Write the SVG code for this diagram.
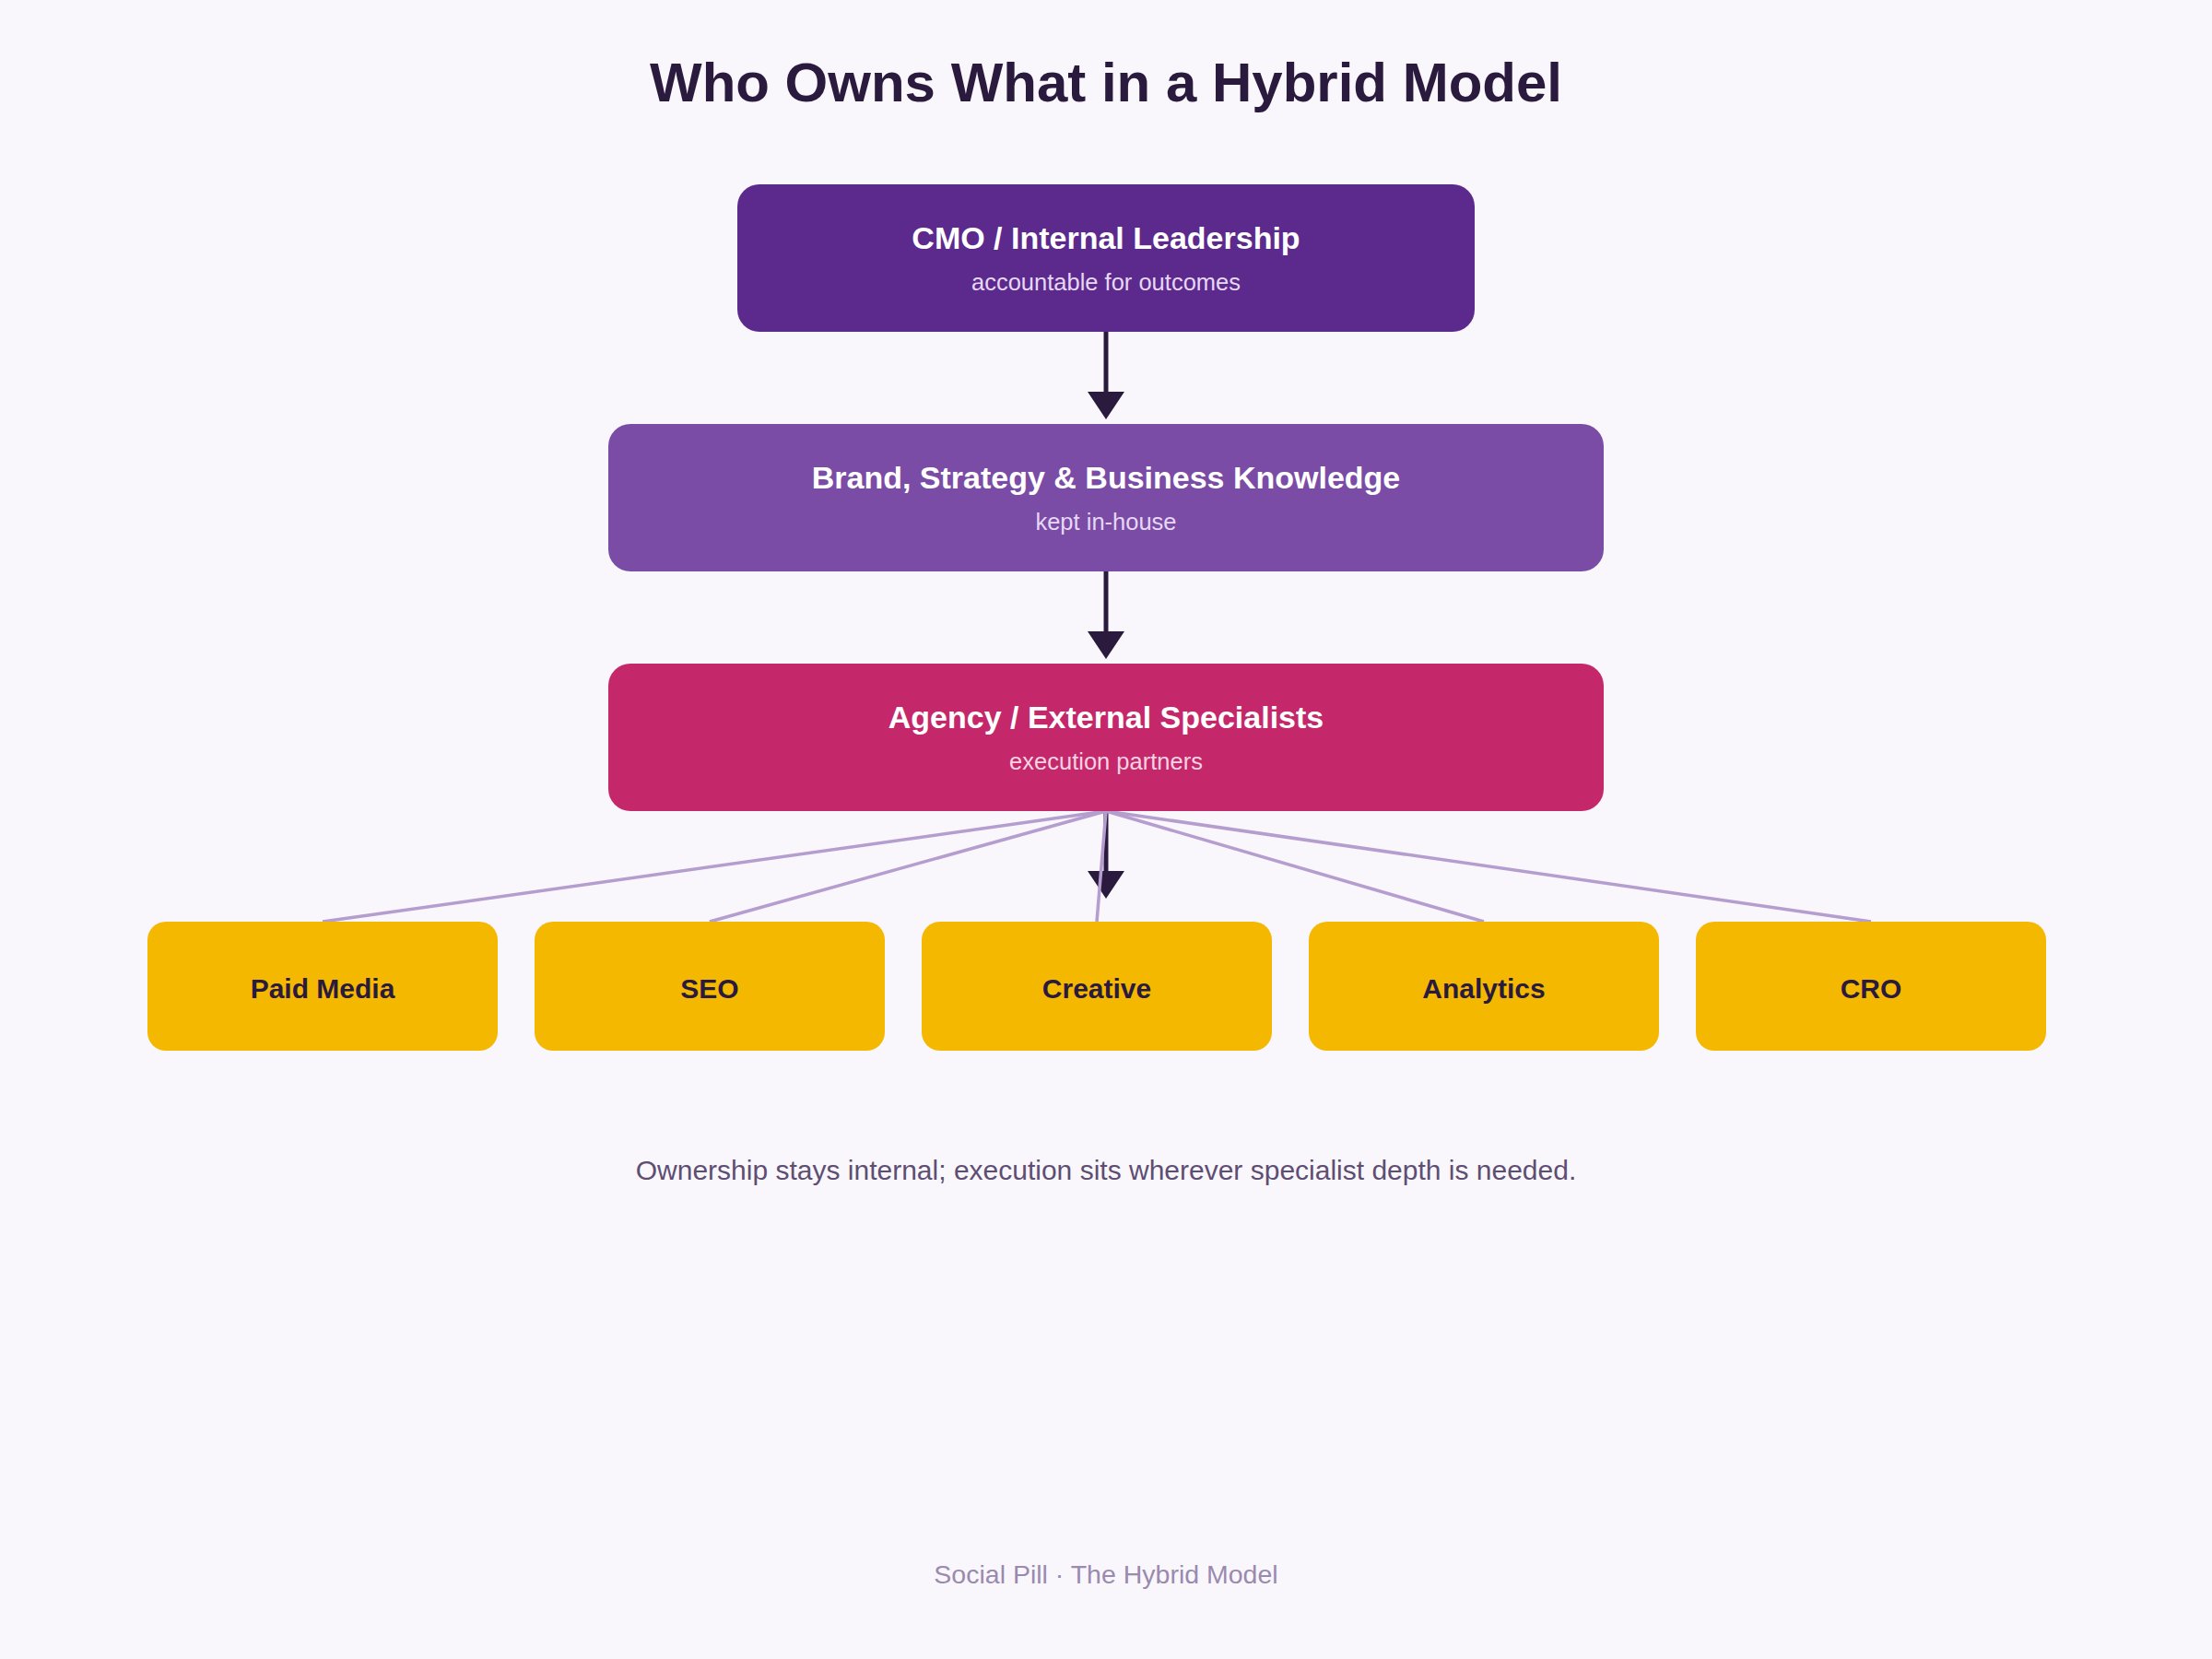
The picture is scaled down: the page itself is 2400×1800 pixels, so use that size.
<svg xmlns="http://www.w3.org/2000/svg" width="2400" height="1800" viewBox="0 0 2400 1800">
<defs>
<style>
text{font-family:"Liberation Sans",Arial,sans-serif;text-anchor:middle}
.title{font-size:60px;font-weight:bold;fill:#2a1a3e}
.nt{font-size:34px;font-weight:bold;fill:#ffffff}
.ns{font-size:25.5px;fill:#e6d8f5}
.ns2{font-size:25.5px;fill:#f9d2e3}
.lt{font-size:30px;font-weight:bold;fill:#2a1a3e}
.cap{font-size:30px;fill:#5e4e72}
.foot{font-size:28.5px;fill:#9a8aaf}
.arrow{stroke:#2a1a3e;stroke-width:5;fill:none}
.fan{stroke:#b59dcf;stroke-width:3.5;fill:none}
.leaf{fill:#f5b800}
</style>
<marker id="ah" markerWidth="6" markerHeight="8" refX="3" refY="4" orient="auto" markerUnits="strokeWidth">
<path d="M0,0 L6,4 L0,8 Z" fill="#2a1a3e"/>
</marker>
</defs>
<rect width="2400" height="1800" fill="#f9f7fc"/>
<text class="title" x="1200" y="110">Who Owns What in a Hybrid Model</text>
<g id="connectors">
<line class="arrow" x1="1200" y1="360" x2="1200" y2="440" marker-end="url(#ah)"/>
<line class="arrow" x1="1200" y1="620" x2="1200" y2="700" marker-end="url(#ah)"/>
<line class="arrow" x1="1200" y1="880" x2="1200" y2="960" marker-end="url(#ah)"/>
<line class="fan" x1="1200" y1="880" x2="350" y2="1000"/>
<line class="fan" x1="1200" y1="880" x2="770" y2="1000"/>
<line class="fan" x1="1200" y1="880" x2="1190" y2="1000"/>
<line class="fan" x1="1200" y1="880" x2="1610" y2="1000"/>
<line class="fan" x1="1200" y1="880" x2="2030" y2="1000"/>
</g>
<g id="cmo">
<rect x="800" y="200" width="800" height="160" rx="24" fill="#5c2a8c"/>
<text class="nt" x="1200" y="270">CMO / Internal Leadership</text>
<text class="ns" x="1200" y="315">accountable for outcomes</text>
</g>
<g id="brand">
<rect x="660" y="460" width="1080" height="160" rx="24" fill="#7b4ca5"/>
<text class="nt" x="1200" y="530">Brand, Strategy &amp; Business Knowledge</text>
<text class="ns" x="1200" y="575">kept in-house</text>
</g>
<g id="agency">
<rect x="660" y="720" width="1080" height="160" rx="24" fill="#c4286a"/>
<text class="nt" x="1200" y="790">Agency / External Specialists</text>
<text class="ns2" x="1200" y="835">execution partners</text>
</g>
<g id="paid-media">
<rect class="leaf" x="160" y="1000" width="380" height="140" rx="20"/>
<text class="lt" x="350" y="1083">Paid Media</text>
</g>
<g id="seo">
<rect class="leaf" x="580" y="1000" width="380" height="140" rx="20"/>
<text class="lt" x="770" y="1083">SEO</text>
</g>
<g id="creative">
<rect class="leaf" x="1000" y="1000" width="380" height="140" rx="20"/>
<text class="lt" x="1190" y="1083">Creative</text>
</g>
<g id="analytics">
<rect class="leaf" x="1420" y="1000" width="380" height="140" rx="20"/>
<text class="lt" x="1610" y="1083">Analytics</text>
</g>
<g id="cro">
<rect class="leaf" x="1840" y="1000" width="380" height="140" rx="20"/>
<text class="lt" x="2030" y="1083">CRO</text>
</g>
<text class="cap" x="1200" y="1280">Ownership stays internal; execution sits wherever specialist depth is needed.</text>
<text class="foot" x="1200" y="1718">Social Pill · The Hybrid Model</text>
</svg>
